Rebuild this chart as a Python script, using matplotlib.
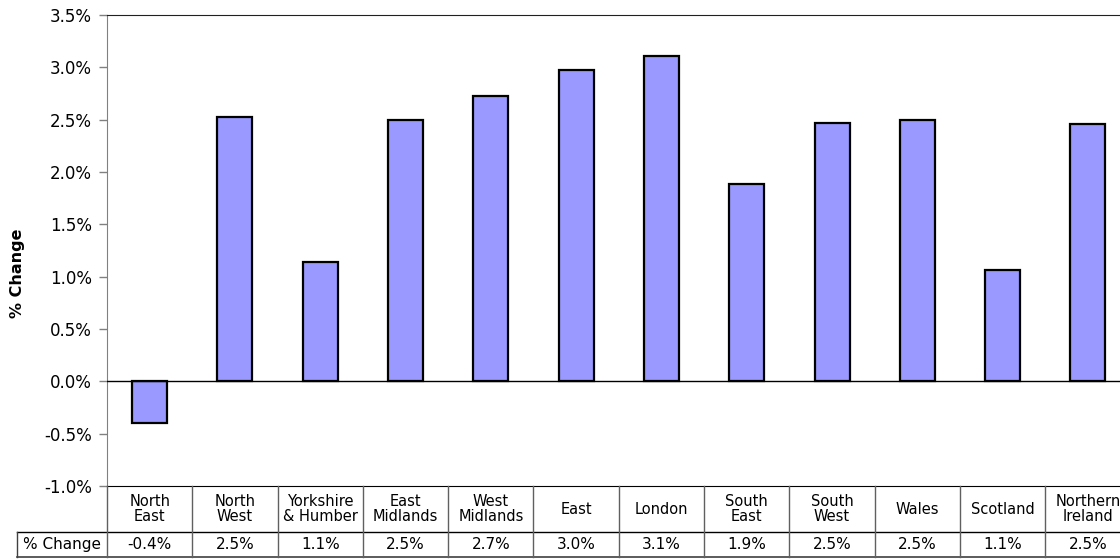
import matplotlib.pyplot as plt
from matplotlib.ticker import FuncFormatter

regions = ['North\nEast', 'North\nWest', 'Yorkshire\n& Humber', 'East\nMidlands',
           'West\nMidlands', 'East', 'London', 'South\nEast', 'South\nWest',
           'Wales', 'Scotland', 'Northern\nIreland']
pct_change = [-0.40, 2.53, 1.14, 2.50, 2.73, 2.97, 3.11, 1.89, 2.47, 2.50, 1.06, 2.46]
row_label = '% Change'
y_ticks = [-1.0, -0.5, 0.0, 0.5, 1.0, 1.5, 2.0, 2.5, 3.0, 3.5]

W, H = 1120, 559
fig = plt.figure(figsize=(W / 100, H / 100), dpi=100)

# pixel layout of the plot area and the data table underneath
x0, x1 = 107, 1130.6
y_top, y_axis_bottom, y_row, y_table_bottom = 15, 486, 532, 557
label_col_left = 17
col_px = (x1 - x0) / len(regions)

ax = fig.add_axes([x0 / W, 1 - y_axis_bottom / H, (x1 - x0) / W,
                   (y_axis_bottom - y_top) / H])
ax.bar(range(len(regions)), pct_change, width=0.41, color='#9999FF',
       edgecolor='black', linewidth=1.6, zorder=3)
ax.axhline(0, color='black', lw=1, zorder=4)
ax.set_xlim(-0.5, len(regions) - 0.5)
ax.set_ylim(y_ticks[0], y_ticks[-1])
ax.set_yticks(y_ticks)
ax.yaxis.set_major_formatter(FuncFormatter(lambda v, p: f'{v:.1f}%'))
ax.set_xticks([])
ax.tick_params(axis='y', direction='out', length=6, width=1, color='#808080',
               pad=5, labelsize=12)
ax.spines['right'].set_visible(False)
ax.spines['left'].set_color('#808080')
ax.spines['top'].set_color('#202020')
ax.spines['bottom'].set_color('black')

fig.text(17.5 / W, 1 - 273 / H, '% Change', rotation=90, ha='center', va='center',
         fontsize=11.5, fontweight='bold')

# data table below the chart
tax = fig.add_axes([x0 / W, 1 - y_table_bottom / H, (x1 - x0) / W,
                    (y_table_bottom - y_axis_bottom) / H])
tax.set_xlim(-0.5, len(regions) - 0.5)
tax.set_ylim(0, 1)
tax.axis('off')
mid = (y_table_bottom - y_row) / (y_table_bottom - y_axis_bottom)
left = -0.5 - (x0 - label_col_left) / col_px

tax.plot([left, len(regions) - 0.5], [mid, mid], color='black', lw=1, clip_on=False)
tax.plot([left, len(regions) - 0.5], [0, 0], color='#404040', lw=1.2, clip_on=False)
tax.plot([left, left], [0, mid], color='#404040', lw=1, clip_on=False)
for k in range(len(regions) + 1):
    tax.plot([k - 0.5, k - 0.5], [0, 1], color='#606060', lw=1, clip_on=False)

tax.text((left - 0.5) / 2, mid / 2, row_label, ha='center', va='center',
         fontsize=11, clip_on=False)
for i, (name, val) in enumerate(zip(regions, pct_change)):
    tax.text(i, (1 + mid) / 2, name, ha='center', va='center', fontsize=10.5,
             linespacing=1.0)
    tax.text(i, mid / 2, f'{val:.1f}%', ha='center', va='center', fontsize=11)

fig.savefig('out.png', dpi=100)
